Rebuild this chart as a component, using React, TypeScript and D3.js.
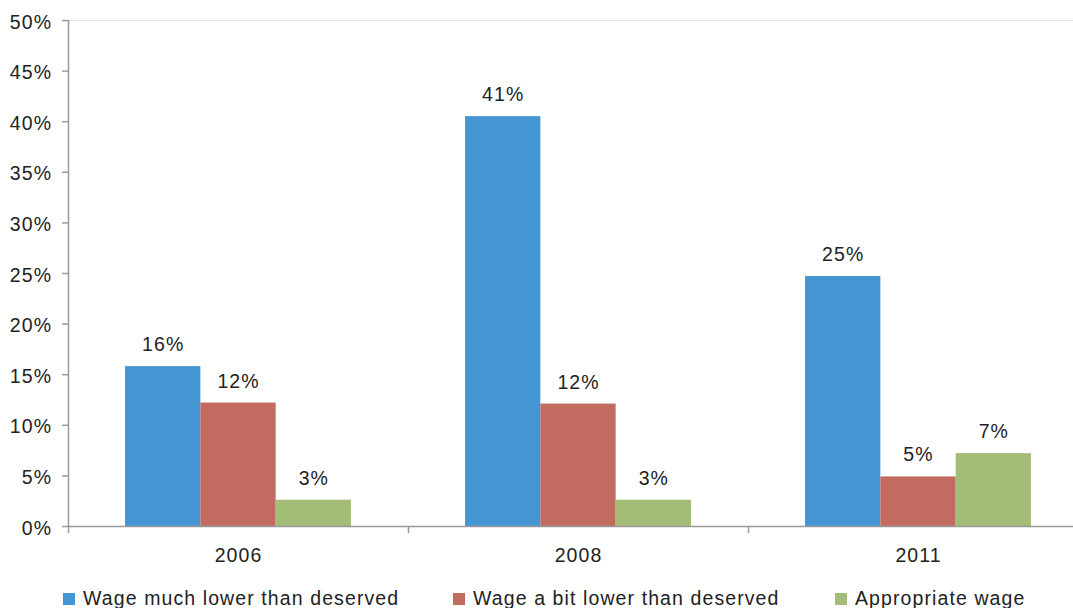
import React from "react";
import * as d3 from "d3";

const categories = ["2006", "2008", "2011"];
const seriesNames = ["Wage much lower than deserved", "Wage a bit lower than deserved", "Appropriate wage"];
const seriesColors = ["#4396d3", "#c26b61", "#a3bd76"];
const muchLower = [15.8, 40.5, 24.7];
const bitLower = [12.2, 12.1, 4.9];
const appropriate = [2.6, 2.6, 7.2];
const yTicks = [0, 5, 10, 15, 20, 25, 30, 35, 40, 45, 50];

const series = [muchLower, bitLower, appropriate];

export default function App() {
  const W = 1073, H = 608;
  const left = 68, top = 20, bottom = 526;
  const bandW = 340;
  const x = d3.scaleBand<string>().domain(categories).range([left, left + bandW * 3]).paddingInner(0).paddingOuter(0);
  const y = d3.scaleLinear().domain([0, 50]).range([bottom, top]);
  const barW = 75.3;
  const font = "Liberation Sans, Arial, sans-serif";
  const textColor = "#222";
  const axisColor = "#999";
  const fs = 19.5;
  const ls = 1.1;
  const legendX = [63, 453, 835];

  return (
    <svg width={W} height={H} style={{ position: "absolute", left: 0, top: 0, background: "#fff" }} fontFamily={font}>
      <line x1={left} x2={W} y1={top + 0.5} y2={top + 0.5} stroke="#e2e2e2" strokeWidth={1} />
      {series.map((vals, si) =>
        categories.map((c, ci) => {
          const cx = (x(c) as number) + x.bandwidth() / 2;
          const bx = cx - (barW * 3) / 2 + si * barW;
          const v = vals[ci];
          return (
            <g key={`${si}-${ci}`}>
              <rect x={bx} y={y(v)} width={barW} height={bottom - y(v)} fill={seriesColors[si]} />
              <text x={bx + barW / 2 + ls / 2} y={y(v) - 15} textAnchor="middle" fontSize={fs} letterSpacing={ls} fill={textColor}>
                {`${Math.round(v)}%`}
              </text>
            </g>
          );
        })
      )}
      <line x1={left + 0.5} x2={left + 0.5} y1={top} y2={bottom} stroke={axisColor} strokeWidth={1.5} />
      <line x1={left} x2={W} y1={bottom + 0.5} y2={bottom + 0.5} stroke={axisColor} strokeWidth={1.5} />
      {yTicks.map((t) => (
        <g key={t}>
          <line x1={left - 6} x2={left} y1={y(t) + 0.5} y2={y(t) + 0.5} stroke={axisColor} strokeWidth={1.5} />
          <text x={51 + ls} y={y(t) + 8.5} textAnchor="end" fontSize={fs} letterSpacing={ls} fill={textColor}>{`${t}%`}</text>
        </g>
      ))}
      {[0, 1, 2, 3].map((i) => (
        <line key={i} x1={left + i * bandW + 0.5} x2={left + i * bandW + 0.5} y1={bottom} y2={bottom + 7} stroke={axisColor} strokeWidth={1.5} />
      ))}
      {categories.map((c) => (
        <text key={c} x={(x(c) as number) + x.bandwidth() / 2 + ls / 2} y={562} textAnchor="middle" fontSize={fs} letterSpacing={ls} fill={textColor}>
          {c}
        </text>
      ))}
      {seriesNames.map((n, i) => (
        <g key={n}>
          <rect x={legendX[i]} y={593} width={12} height={12} fill={seriesColors[i]} />
          <text x={legendX[i] + 20} y={605} fontSize={fs} letterSpacing={ls} fill={textColor}>{n}</text>
        </g>
      ))}
    </svg>
  );
}
